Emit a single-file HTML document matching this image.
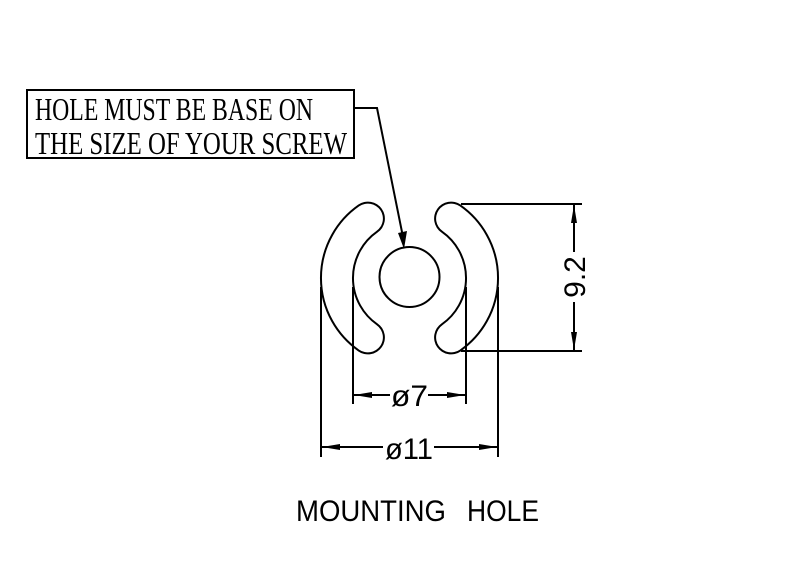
<!DOCTYPE html>
<html><head><style>html,body{margin:0;padding:0;background:#fff}</style></head>
<body>
<svg width="800" height="576" viewBox="0 0 800 576" xmlns="http://www.w3.org/2000/svg">
<rect width="800" height="576" fill="#fff"/>
<g fill="none" stroke="#000" stroke-width="2">
<rect x="27" y="90" width="327" height="68"/>
<polyline points="354,108 377,108 403,237"/>
</g>
<polygon points="404,249 398,233 407,231" fill="#000"/>
<g font-family="Liberation Serif, serif" font-size="32" fill="#000">
<text x="35" y="120" textLength="278" lengthAdjust="spacingAndGlyphs">HOLE MUST BE BASE ON</text>
<text x="35" y="154" textLength="312" lengthAdjust="spacingAndGlyphs">THE SIZE OF YOUR SCREW</text>
</g>
<g fill="none" stroke-linecap="round">
<path d="M367.9,218.6 A72.5,72.5 0 0 0 367.9,337.4" stroke="#000" stroke-width="34"/>
<path d="M367.9,218.6 A72.5,72.5 0 0 0 367.9,337.4" stroke="#fff" stroke-width="30"/>
<path d="M451.1,218.6 A72.5,72.5 0 0 1 451.1,337.4" stroke="#000" stroke-width="34"/>
<path d="M451.1,218.6 A72.5,72.5 0 0 1 451.1,337.4" stroke="#fff" stroke-width="30"/>
</g>
<circle cx="409.5" cy="277" r="30" fill="none" stroke="#000" stroke-width="2"/>
<g stroke="#000" stroke-width="2" fill="none">
<line x1="321" y1="287" x2="321" y2="457"/>
<line x1="498" y1="287" x2="498" y2="457"/>
<line x1="353" y1="287" x2="353" y2="404"/>
<line x1="466" y1="287" x2="466" y2="404"/>
<line x1="353" y1="395" x2="390" y2="395"/>
<line x1="428" y1="395" x2="466" y2="395"/>
<line x1="321" y1="447" x2="383" y2="447"/>
<line x1="434" y1="447" x2="498" y2="447"/>
<line x1="461" y1="204" x2="582" y2="204"/>
<line x1="461" y1="351" x2="582" y2="351"/>
<line x1="574" y1="204" x2="574" y2="252"/>
<line x1="574" y1="302" x2="574" y2="351"/>
</g>
<g fill="#000">
<polygon points="354,395 372,392 372,398"/>
<polygon points="465,395 447,392 447,398"/>
<polygon points="322,447 340,444 340,450"/>
<polygon points="497,447 479,444 479,450"/>
<polygon points="574,205 571,223 577,223"/>
<polygon points="574,350 571,332 577,332"/>
</g>
<g font-family="Liberation Sans, sans-serif" fill="#000">
<text x="391" y="406" font-size="30" textLength="37" lengthAdjust="spacingAndGlyphs">ø7</text>
<text x="385" y="459" font-size="30" textLength="48" lengthAdjust="spacingAndGlyphs">ø11</text>
<text transform="translate(585,277) rotate(-90)" font-size="30" text-anchor="middle">9.2</text>
<text x="296" y="521" font-size="30" textLength="150" lengthAdjust="spacingAndGlyphs">MOUNTING</text>
<text x="467" y="521" font-size="30" textLength="72" lengthAdjust="spacingAndGlyphs">HOLE</text>
</g>
</svg>
</body></html>
